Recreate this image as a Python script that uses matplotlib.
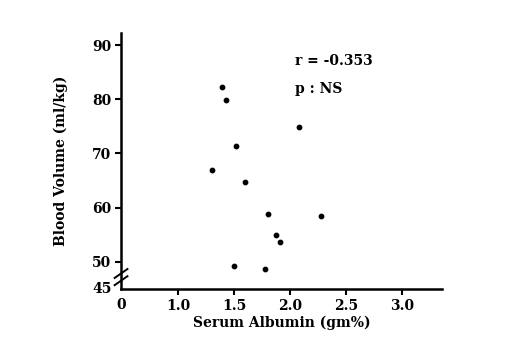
import matplotlib
matplotlib.use("Agg")
import matplotlib.pyplot as plt

albumin = [1.39, 1.43, 2.08, 1.52, 1.30, 1.60, 1.80, 2.28, 1.88, 1.91, 1.50, 1.78]
blood_volume = [82.2, 79.8, 74.8, 71.3, 67.0, 64.8, 58.9, 58.4, 55.0, 53.6, 49.3, 48.6]
x_ticks = [1.0, 1.5, 2.0, 2.5, 3.0]
x_ticklabels = ["1.0", "1.5", "2.0", "2.5", "3.0"]
y_ticks = [50, 60, 70, 80, 90]
y_ticklabels = ["50", "60", "70", "80", "90"]
stat_r = "r = -0.353"
stat_p = "p : NS"

plt.rcParams['font.family'] = ['DejaVu Serif']
plt.rcParams['font.weight'] = 'bold'

fig = plt.figure(figsize=(5.07, 3.52), dpi=100)
ax = fig.add_axes([0.2387, 0.179, 0.633, 0.727])

ax.scatter(albumin, blood_volume, s=10, color='black', zorder=3)

ax.set_xlim(0.49, 3.36)
ax.set_ylim(45, 92.2)
ax.spines['top'].set_visible(False)
ax.spines['right'].set_visible(False)
ax.spines['left'].set_linewidth(1.8)
ax.spines['bottom'].set_linewidth(1.8)

ax.set_xticks(x_ticks)
ax.set_xticklabels(x_ticklabels, fontsize=10, fontweight='bold')
ax.set_yticks(y_ticks)
ax.set_yticklabels(y_ticklabels, fontsize=10, fontweight='bold')
ax.tick_params(axis='x', direction='out', length=4, width=1.5, pad=3)
ax.tick_params(axis='y', direction='out', length=4, width=1.5, pad=3)

# origin labels
ax.text(0.49, -0.063, "0", transform=ax.get_xaxis_transform(), ha='center', va='center',
        fontsize=10, fontweight='bold')
ax.text(-0.03, 45, "45", transform=ax.get_yaxis_transform(), ha='right', va='center',
        fontsize=10, fontweight='bold')

# axis break mark
for dy in (0.0, 0.028):
    ax.plot([-0.02, 0.02], [0.015 + dy, 0.05 + dy], transform=ax.transAxes,
            color='black', lw=1.4, clip_on=False)

ax.text(2.045, 87.0, stat_r, fontsize=10, fontweight='bold', va='center')
ax.text(2.045, 81.9, stat_p, fontsize=10, fontweight='bold', va='center')

ax.set_xlabel("Serum Albumin (gm%)", fontsize=10, fontweight='bold', labelpad=2)
ax.set_ylabel("Blood Volume (ml/kg)", fontsize=10, fontweight='bold', labelpad=17)

fig.savefig("out.png", dpi=100)
